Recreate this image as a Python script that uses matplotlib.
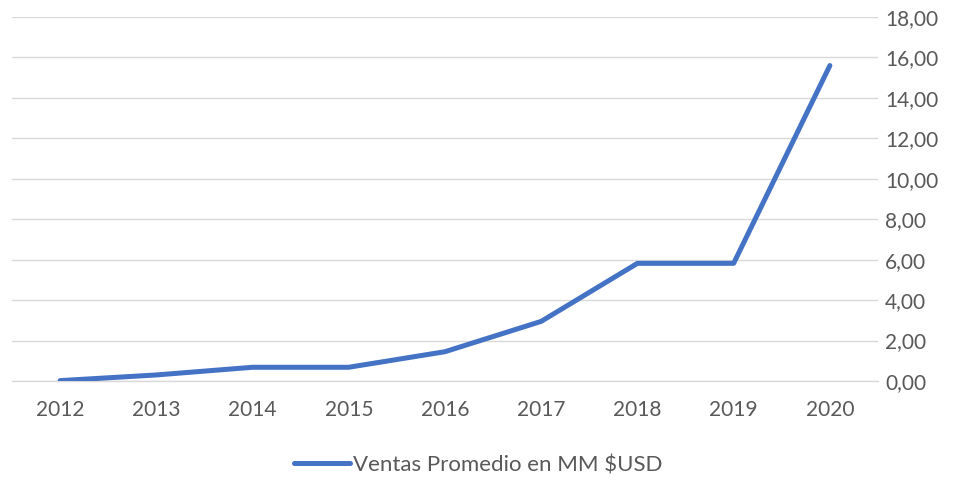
import matplotlib.pyplot as plt
from matplotlib.ticker import FuncFormatter

# datos
anios = ['2012', '2013', '2014', '2015', '2016', '2017', '2018', '2019', '2020']
ventas = [0.02, 0.30, 0.68, 0.68, 1.45, 2.95, 5.82, 5.82, 15.6]
etiqueta = 'Ventas Promedio en MM $USD'

plt.rcParams['font.family'] = ['Lato', 'DejaVu Sans']
gris = '#595959'

fig = plt.figure(figsize=(9.66, 4.82), dpi=100)
ax = fig.add_axes([0.0124, 0.2095, 0.8965, 0.7552])

x = range(len(anios))
ax.plot(x, ventas, color='#4472C4', linewidth=3.6, solid_capstyle='round',
        solid_joinstyle='round', label=etiqueta, zorder=3)

ax.set_xlim(-0.5, len(anios) - 0.5)
ax.set_ylim(0, 18)
ax.set_xticks(list(x))
ax.set_xticklabels(anios)
ax.set_yticks(range(0, 19, 2))
ax.yaxis.set_major_formatter(FuncFormatter(lambda v, p: f'{v:.2f}'.replace('.', ',')))
ax.yaxis.tick_right()

ax.grid(axis='y', color='#D9D9D9', linewidth=1)
ax.set_axisbelow(True)
for s in ['top', 'left', 'right']:
    ax.spines[s].set_visible(False)
ax.spines['bottom'].set_color('#D9D9D9')
ax.spines['bottom'].set_linewidth(1)

ax.tick_params(axis='both', length=0, labelsize=15, colors=gris)
ax.tick_params(axis='x', pad=14)
ax.tick_params(axis='y', pad=5)

leg = fig.legend(loc='center', bbox_to_anchor=(0.495, 0.035), frameon=False,
                 fontsize=16, handlelength=2.5, handletextpad=0.15)
for t in leg.get_texts():
    t.set_color(gris)

fig.savefig('out.png', dpi=100)
